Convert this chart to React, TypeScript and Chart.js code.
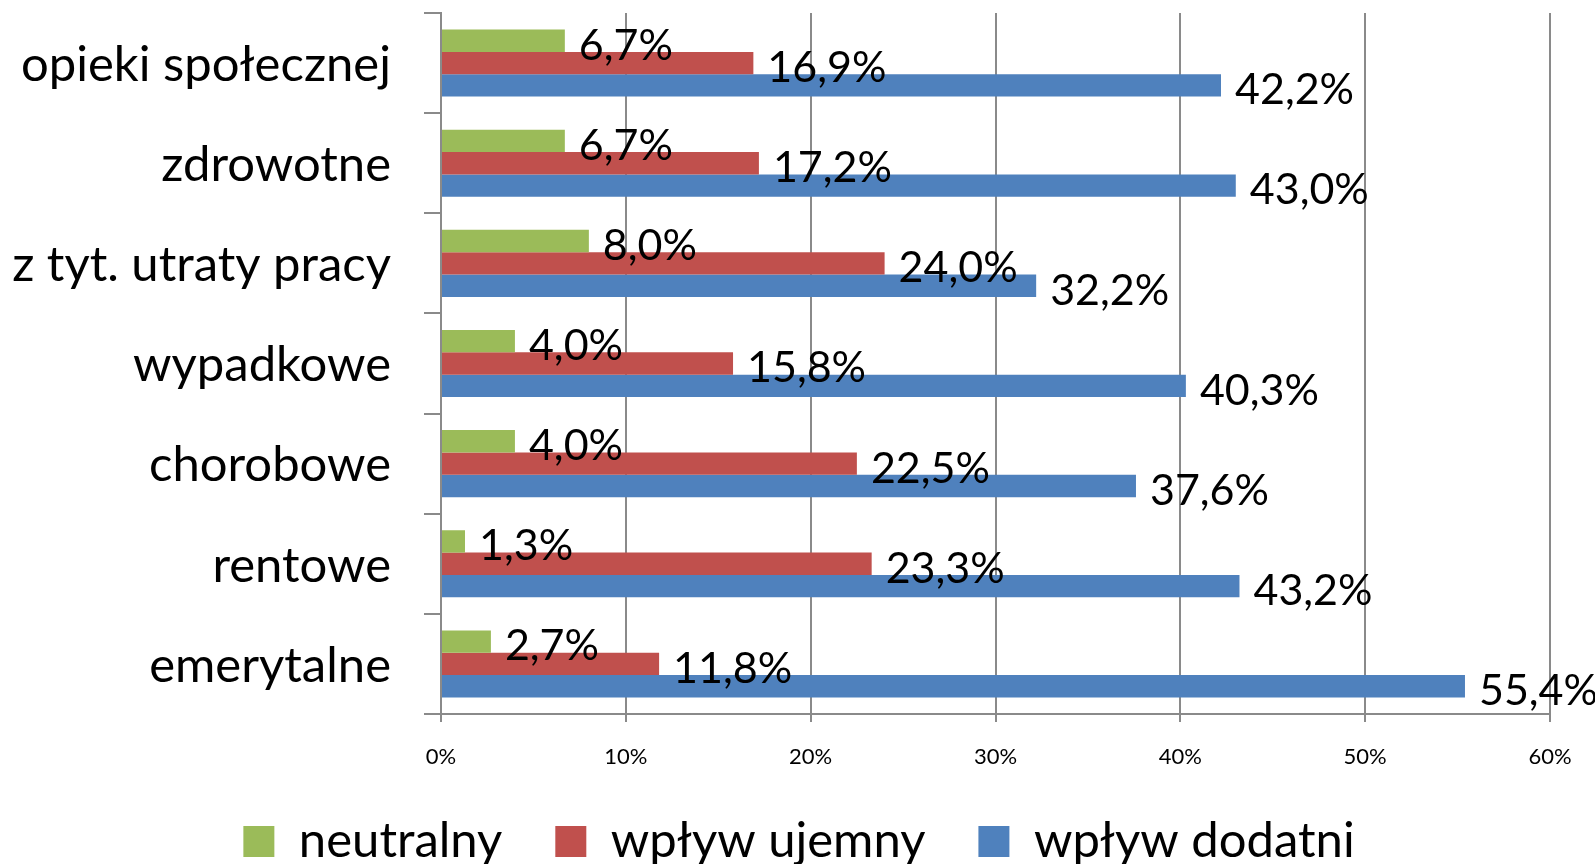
import React, { useEffect, useRef } from "react";
import { Chart, registerables } from "chart.js";

Chart.register(...registerables);

const categories = [
  "opieki społecznej",
  "zdrowotne",
  "z tyt. utraty pracy",
  "wypadkowe",
  "chorobowe",
  "rentowe",
  "emerytalne",
];
const neutralny = [6.7, 6.7, 8.0, 4.0, 4.0, 1.3, 2.7];
const wplywUjemny = [16.9, 17.2, 24.0, 15.8, 22.5, 23.3, 11.8];
const wplywDodatni = [42.2, 43.0, 32.2, 40.3, 37.6, 43.2, 55.4];
const seriesNames = ["neutralny", "wpływ ujemny", "wpływ dodatni"];
const seriesColors = ["#9BBB59", "#C0504D", "#4F81BD"];
const xTicks = [0, 10, 20, 30, 40, 50, 60];

const FONT = "Lato";
const GRID = "#8a8a8a";

const fmt = (v: number) => v.toFixed(1).replace(".", ",") + "%";

const dataLabels = {
  id: "dataLabels",
  afterLayout(chart: any) {
    if (chart.legend) {
      chart.legend.left += 24;
      chart.legend.right += 24;
    }
  },
  afterDatasetsDraw(chart: any) {
    const ctx = chart.ctx;
    ctx.save();
    ctx.font = `43px ${FONT}`;
    ctx.fillStyle = "#000";
    ctx.textBaseline = "middle";
    ctx.textAlign = "left";
    chart.data.datasets.forEach((ds: any, i: number) => {
      const meta = chart.getDatasetMeta(i);
      meta.data.forEach((el: any, j: number) => {
        ctx.fillText(fmt(ds.data[j]), el.x + 14, el.y + 5);
      });
    });
    ctx.restore();
  },
};

export default function App() {
  const ref = useRef<HTMLCanvasElement | null>(null);

  useEffect(() => {
    if (!ref.current) return;
    const allSeries = [neutralny, wplywUjemny, wplywDodatni];
    const chart = new Chart(ref.current, {
      type: "bar",
      data: {
        labels: categories,
        datasets: allSeries.map((d, i) => ({
          label: seriesNames[i],
          data: d,
          backgroundColor: seriesColors[i],
          borderWidth: 0,
          categoryPercentage: 0.67,
          barPercentage: 1.0,
        })),
      },
      options: {
        indexAxis: "y",
        responsive: false,
        animation: false,
        layout: { padding: { top: 13, right: 45, left: 0, bottom: 0 } },
        scales: {
          x: {
            min: xTicks[0],
            max: xTicks[xTicks.length - 1],
            afterBuildTicks: (s: any) => {
              s.ticks = xTicks.map((v) => ({ value: v }));
            },
            afterFit: (s: any) => {
              s.height = 50;
              s.paddingLeft = 0;
              s.paddingRight = 0;
            },
            grid: {
              color: GRID,
              lineWidth: 2,
              drawTicks: true,
              tickLength: 8,
            },
            border: { color: GRID, width: 2 },
            ticks: {
              color: "#000",
              font: { family: FONT, size: 22 },
              padding: 22,
              callback: (v: any) => v + "%",
              maxRotation: 0,
            },
          },
          y: {
            afterFit: (s: any) => {
              s.width = 441;
              s.paddingTop = 0;
              s.paddingBottom = 0;
            },
            grid: {
              color: GRID,
              lineWidth: 2,
              drawOnChartArea: false,
              drawTicks: true,
              tickLength: 17,
            },
            border: { color: GRID, width: 2 },
            ticks: {
              color: "#000",
              font: { family: FONT, size: 49 },
              padding: 33,
              labelOffset: 2,
            },
          },
        },
        plugins: {
          legend: {
            position: "bottom",
            labels: {
              color: "#000",
              font: { family: FONT, size: 49 },
              boxWidth: 31,
              boxHeight: 31,
              padding: 53,
            },
          },
          tooltip: { enabled: false },
        },
      },
      plugins: [dataLabels],
    } as any);
    return () => chart.destroy();
  }, []);

  return (
    <div
      style={{
        position: "fixed",
        left: 0,
        top: 0,
        width: 1595,
        height: 876,
        background: "#fff",
      }}
    >
      <canvas ref={ref} width={1595} height={876} style={{ display: "block" }} />
    </div>
  );
}
